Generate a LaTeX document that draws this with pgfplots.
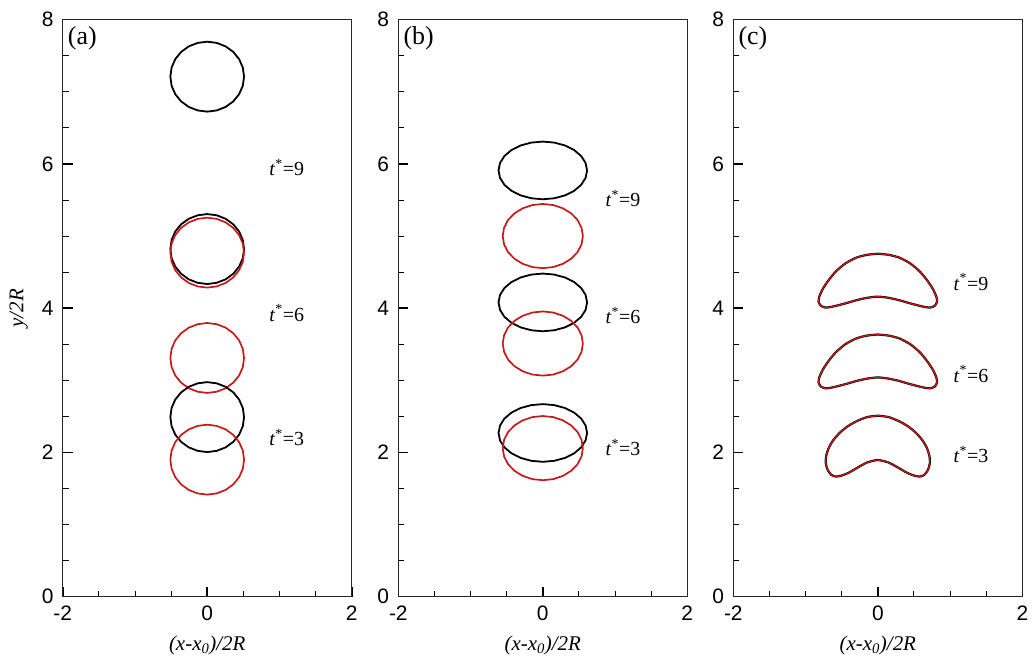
\documentclass[border=0pt]{standalone}
\usepackage{pgfplots}
\pgfplotsset{compat=1.18}
\usepackage{pgfplotstable}
\usepackage{fontspec}
\setmainfont{Liberation Serif}
\newfontfamily\arial{Liberation Sans}
\definecolor{myred}{RGB}{200,25,25}

\pgfplotstableread{
x a1 a2 a3 a4 a5 a6
0.510  7.210  4.820  4.770  3.310  2.490  1.900
0.493  7.336  4.946  4.896  3.436  2.616  2.026
0.442  7.453  5.063  5.013  3.553  2.733  2.143
0.361  7.553  5.163  5.113  3.653  2.833  2.243
0.255  7.630  5.240  5.190  3.730  2.910  2.320
0.132  7.678  5.288  5.238  3.778  2.958  2.368
0      7.695  5.305  5.255  3.795  2.975  2.385
-0.132 7.678  5.288  5.238  3.778  2.958  2.368
-0.255 7.630  5.240  5.190  3.730  2.910  2.320
-0.361 7.553  5.163  5.113  3.653  2.833  2.243
-0.442 7.453  5.063  5.013  3.553  2.733  2.143
-0.493 7.336  4.946  4.896  3.436  2.616  2.026
-0.510 7.210  4.820  4.770  3.310  2.490  1.900
-0.493 7.084  4.694  4.644  3.184  2.364  1.774
-0.442 6.967  4.577  4.527  3.067  2.247  1.657
-0.361 6.867  4.477  4.427  2.967  2.147  1.557
-0.255 6.790  4.400  4.350  2.890  2.070  1.480
-0.132 6.742  4.352  4.302  2.842  2.022  1.432
0      6.725  4.335  4.285  2.825  2.005  1.415
0.132  6.742  4.352  4.302  2.842  2.022  1.432
0.255  6.790  4.400  4.350  2.890  2.070  1.480
0.361  6.867  4.477  4.427  2.967  2.147  1.557
0.442  6.967  4.577  4.527  3.067  2.247  1.657
0.493  7.084  4.694  4.644  3.184  2.364  1.774
0.510  7.210  4.820  4.770  3.310  2.490  1.900
}\tabA

\pgfplotstableread{
x b1 b3 b5
0.613 5.910 4.080 2.270
0.592 6.014 4.184 2.374
0.531 6.110 4.280 2.470
0.433 6.193 4.363 2.553
0.307 6.256 4.426 2.616
0.159 6.296 4.466 2.656
0     6.310 4.480 2.670
-0.159 6.296 4.466 2.656
-0.307 6.256 4.426 2.616
-0.433 6.193 4.363 2.553
-0.531 6.110 4.280 2.470
-0.592 6.014 4.184 2.374
-0.613 5.910 4.080 2.270
-0.592 5.806 3.976 2.166
-0.531 5.710 3.880 2.070
-0.433 5.627 3.797 1.987
-0.307 5.564 3.734 1.924
-0.159 5.524 3.694 1.884
0     5.510 3.680 1.870
0.159 5.524 3.694 1.884
0.307 5.564 3.734 1.924
0.433 5.627 3.797 1.987
0.531 5.710 3.880 2.070
0.592 5.806 3.976 2.166
0.613 5.910 4.080 2.270
}\tabBk

\pgfplotstableread{
x b2 b4 b6
0.555 5.000 3.510 2.060
0.536 5.115 3.625 2.175
0.481 5.223 3.733 2.283
0.392 5.315 3.825 2.375
0.278 5.385 3.895 2.445
0.144 5.430 3.940 2.490
0     5.445 3.955 2.505
-0.144 5.430 3.940 2.490
-0.278 5.385 3.895 2.445
-0.392 5.315 3.825 2.375
-0.481 5.223 3.733 2.283
-0.536 5.115 3.625 2.175
-0.555 5.000 3.510 2.060
-0.536 4.885 3.395 1.945
-0.481 4.777 3.287 1.837
-0.392 4.685 3.195 1.745
-0.278 4.615 3.125 1.675
-0.144 4.570 3.080 1.630
0     4.555 3.065 1.615
0.144 4.570 3.080 1.630
0.278 4.615 3.125 1.675
0.392 4.685 3.195 1.745
0.481 4.777 3.287 1.837
0.536 4.885 3.395 1.945
0.555 5.000 3.510 2.060
}\tabBr

\pgfplotstableread{
x c9 c6
0     4.755 3.635
0.15  4.740 3.620
0.30  4.700 3.580
0.45  4.620 3.500
0.58  4.510 3.390
0.68  4.390 3.270
0.76  4.270 3.150
0.81  4.160 3.040
0.82  4.090 2.970
0.79  4.035 2.915
0.73  4.010 2.890
0.66  4.015 2.895
0.55  4.040 2.920
0.42  4.075 2.955
0.28  4.115 2.995
0.14  4.145 3.025
0     4.160 3.040
-0.14 4.145 3.025
-0.28 4.115 2.995
-0.42 4.075 2.955
-0.55 4.040 2.920
-0.66 4.015 2.895
-0.73 4.010 2.890
-0.79 4.035 2.915
-0.82 4.090 2.970
-0.81 4.160 3.040
-0.76 4.270 3.150
-0.68 4.390 3.270
-0.58 4.510 3.390
-0.45 4.620 3.500
-0.30 4.700 3.580
-0.15 4.740 3.620
0     4.755 3.635
}\tabC

\pgfplotstableread{
x c3
0      2.510
0.15   2.490
0.30   2.430
0.42   2.360
0.53   2.270
0.62   2.165
0.68   2.060
0.715  1.950
0.72   1.850
0.695  1.760
0.645  1.690
0.58   1.665
0.50   1.680
0.40   1.720
0.28   1.790
0.15   1.860
0      1.895
-0.15  1.860
-0.28  1.790
-0.40  1.720
-0.50  1.680
-0.58  1.665
-0.645 1.690
-0.695 1.760
-0.72  1.850
-0.715 1.950
-0.68  2.060
-0.62  2.165
-0.53  2.270
-0.42  2.360
-0.30  2.430
-0.15  2.490
0      2.510
}\tabCt

\pgfplotsset{
  panel/.style={
    width=289bp, height=577bp, scale only axis,
    xmin=-2, xmax=2, ymin=0, ymax=8,
    xtick={-2,0,2}, xticklabels={-2,0,2},
    ytick={0,2,4,6,8}, yticklabels={0,2,4,6,8},
    minor x tick num=3, minor y tick num=3,
    tick align=inside, xtick pos=left, ytick pos=left,
    major tick length=10bp, minor tick length=6bp,
    every major tick/.append style={line width=1.6bp, black},
    every minor tick/.append style={line width=0.9bp, black},
    axis line style={line width=0.9bp, black!85},
    tick label style={font=\arial\fontsize{21}{21}\selectfont, inner sep=0.5bp},
    yticklabel style={xshift=-8.5bp},
    xticklabel style={yshift=-8bp},
    every axis x label/.style={at={(axis description cs:0.5,-0.085)}, anchor=center, font=\itshape\fontsize{21}{21}\selectfont},
    every axis y label/.style={at={(axis description cs:-0.152,0.5)}, rotate=90, anchor=center, font=\itshape\fontsize{21}{21}\selectfont},
    xlabel={(x-x\textsubscript{0})/2R},
  },
  blk/.style={black, line width=1.8bp, line join=round, no markers},
  rd/.style={myred, line width=1.7bp, line join=round, no markers},
}
\tikzset{
  ann/.style={font=\fontsize{20}{20}\selectfont},
  plab/.style={anchor=north west, inner sep=0pt, xshift=5bp, yshift=-7bp, font=\fontsize{26}{26}\selectfont},
}

\begin{document}
\begin{tikzpicture}[x=1bp,y=1bp]
\path[use as bounding box] (0,0) rectangle (1034,659);

\begin{axis}[panel, at={(62.7bp,62.3bp)}, anchor=south west, ylabel={y/2R}]
\addplot[blk] table[x=x,y=a1] {\tabA};
\addplot[blk] table[x=x,y=a2] {\tabA};
\addplot[rd]  table[x=x,y=a3] {\tabA};
\addplot[rd]  table[x=x,y=a4] {\tabA};
\addplot[blk] table[x=x,y=a5] {\tabA};
\addplot[rd]  table[x=x,y=a6] {\tabA};
\node[plab] at (rel axis cs:0,1) {(a)};
\node[ann] at (axis cs:1.10,5.95) {\textit{t}\textsuperscript{*}=9};
\node[ann] at (axis cs:1.10,3.93) {\textit{t}\textsuperscript{*}=6};
\node[ann] at (axis cs:1.10,2.21) {\textit{t}\textsuperscript{*}=3};
\end{axis}

\begin{axis}[panel, at={(398.3bp,62.3bp)}, anchor=south west]
\addplot[blk] table[x=x,y=b1] {\tabBk};
\addplot[rd]  table[x=x,y=b2] {\tabBr};
\addplot[blk] table[x=x,y=b3] {\tabBk};
\addplot[rd]  table[x=x,y=b4] {\tabBr};
\addplot[blk] table[x=x,y=b5] {\tabBk};
\addplot[rd]  table[x=x,y=b6] {\tabBr};
\node[plab] at (rel axis cs:0,1) {(b)};
\node[ann] at (axis cs:1.11,5.52) {\textit{t}\textsuperscript{*}=9};
\node[ann] at (axis cs:1.11,3.90) {\textit{t}\textsuperscript{*}=6};
\node[ann] at (axis cs:1.11,2.07) {\textit{t}\textsuperscript{*}=3};
\end{axis}

\begin{axis}[panel, at={(733.3bp,62.3bp)}, anchor=south west]
\addplot[blk, line width=2.2bp, smooth, tension=0.4] table[x=x,y=c9] {\tabC};
\addplot[rd, line width=1.2bp, smooth, tension=0.4] table[x=x,y=c9] {\tabC};
\addplot[blk, line width=2.2bp, smooth, tension=0.4] table[x=x,y=c6] {\tabC};
\addplot[rd, line width=1.2bp, smooth, tension=0.4] table[x=x,y=c6] {\tabC};
\addplot[blk, line width=2.2bp, smooth, tension=0.4] table[x=x,y=c3] {\tabCt};
\addplot[rd, line width=1.2bp, smooth, tension=0.4] table[x=x,y=c3] {\tabCt};
\node[plab] at (rel axis cs:0,1) {(c)};
\node[ann] at (axis cs:1.29,4.36) {\textit{t}\textsuperscript{*}=9};
\node[ann] at (axis cs:1.29,3.09) {\textit{t}\textsuperscript{*}=6};
\node[ann] at (axis cs:1.29,1.97) {\textit{t}\textsuperscript{*}=3};
\end{axis}
\end{tikzpicture}
\end{document}
